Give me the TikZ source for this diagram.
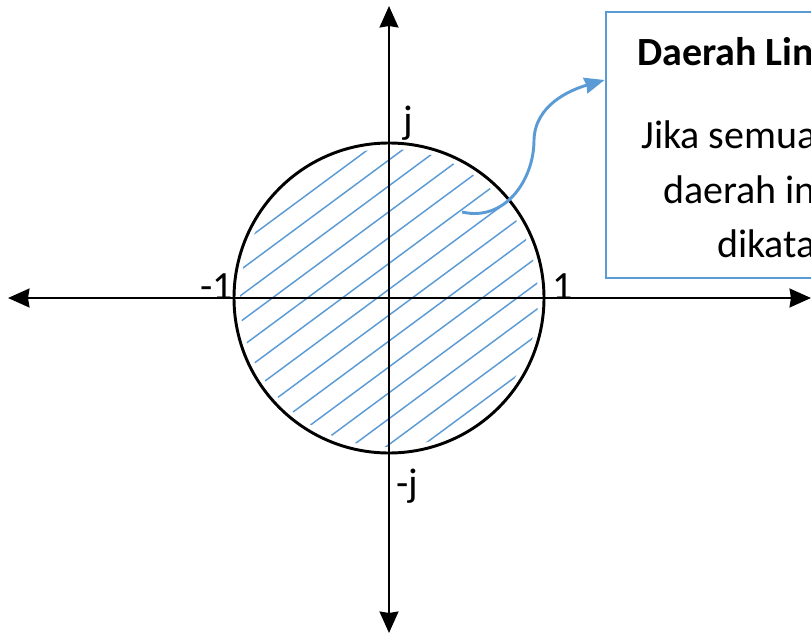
\documentclass[tikz,border=0pt]{standalone}
\usepackage{fontspec}
\setmainfont{Carlito}
\usetikzlibrary{arrows.meta,positioning}
\definecolor{officeblue}{HTML}{5B9BD5}
\tikzset{
axis/.style={{Stealth[length=16pt,width=14pt,inset=1pt]}-{Stealth[length=16pt,width=14pt,inset=1pt]},line width=2.2pt},
unitcircle/.style={line width=2.2pt},
hatch/.style={officeblue,line width=1.1pt},
infobox/.style={draw=officeblue,line width=2.2pt,minimum width=315pt,minimum height=199.5pt},
callout/.style={-{Stealth[length=15pt,width=12pt,inset=1pt]},officeblue,line width=2.2pt},
axislabel/.style={font=\fontsize{30pt}{36pt}\selectfont,inner sep=0pt,anchor=base west},
boxtext/.style={font=\fontsize{30pt}{36pt}\selectfont,inner sep=0pt,anchor=base west},
boxtitle/.style={boxtext,font=\fontsize{30pt}{36pt}\selectfont\bfseries}
}

\begin{document}
\begin{tikzpicture}[x=0.75pt,y=-0.75pt]
\useasboundingbox (0,0) rectangle (811,635);
\clip (0,0) rectangle (811,635);
\coordinate (o) at (389,298);
\coordinate (xmin) at (8,298);
\coordinate (xmax) at (811,298);
\coordinate (ymax) at (389,6);
\coordinate (ymin) at (389,633);

% hatched inside of the circle
\begin{scope}
\clip (o) circle[radius=149];
\foreach \d in {-9,...,8}
  \draw[hatch,shift={(o)},rotate=36.5] (-200,{\d*20.8-7}) -- (200,{\d*20.8-7});
\end{scope}
\draw[unitcircle] (o) circle[radius=155];

% axes
\draw[axis] (xmin)--(xmax);
\draw[axis] (ymin)--(ymax);

\node[axislabel] (lminus) at (200,299) {-1};
\node[axislabel] (lone) at (552,299) {1};
\node[axislabel] (lj) at (403,133) {j};
\node[axislabel] (lminusj) at (396,496) {-j};

% note box
\node[infobox] (info) at (816,145) {};
\node[boxtitle] (title) at (637,66) {Daerah Lin};
\node[boxtext] (linea) at (641,148) {Jika semua};
\node[boxtext] (lineb) at (663,203) {daerah in};
\node[boxtext] (linec) at (717,257) {dikata};

\coordinate (spot) at (462,212);
\draw[callout] (spot) .. controls (505,222) and (534,180) .. (534,140) .. controls (535,105) and (570,90) .. ([yshift=48.75pt]info.west);
\end{tikzpicture}
\end{document}
